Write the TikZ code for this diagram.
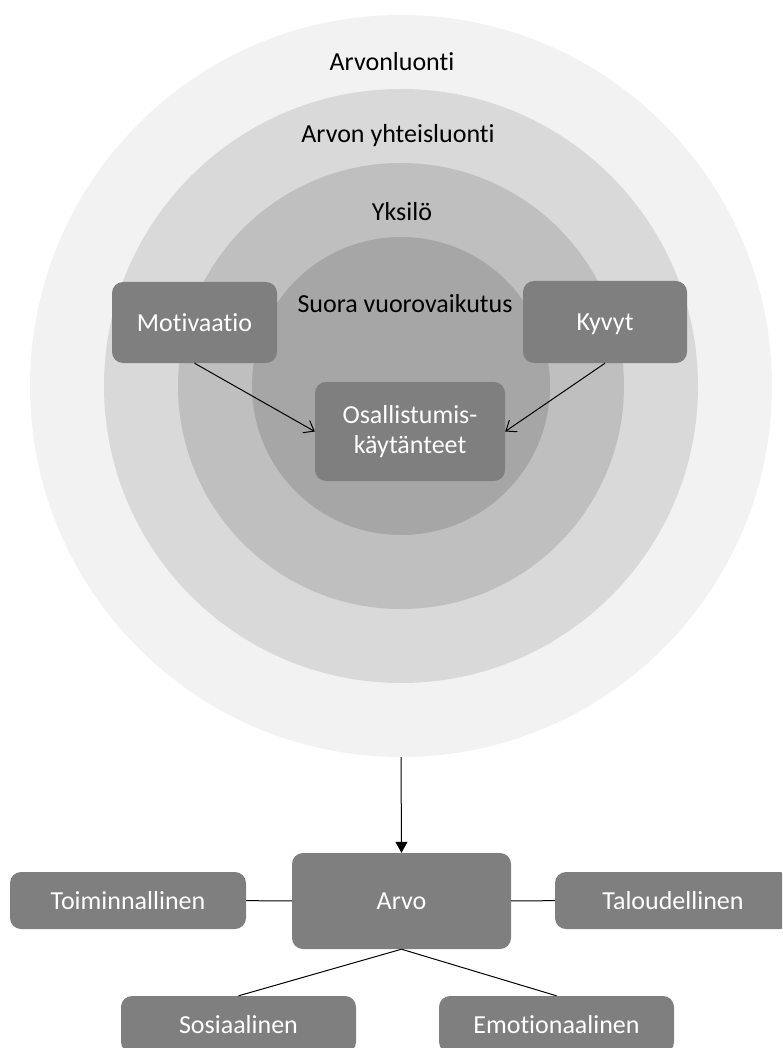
\documentclass[tikz,border=0pt]{standalone}
\usepackage{fontspec}
\setmainfont{Carlito}[Ligatures=NoCommon]
\usetikzlibrary{arrows.meta}

\definecolor{ringa}{HTML}{F2F2F2}
\definecolor{ringb}{HTML}{D9D9D9}
\definecolor{ringc}{HTML}{BFBFBF}
\definecolor{ringd}{HTML}{A6A6A6}
\definecolor{boxgray}{HTML}{7F7F7F}

\tikzset{
  lbl/.style={font=\fontsize{26}{30}\selectfont, text=black, inner sep=0pt, anchor=base},
  box/.style={fill=boxgray, rounded corners=11pt, text=white, align=center, inner sep=0pt,
    font=\fontsize{26}{30}\selectfont},
  onebox/.style={box, text height=17pt, text depth=0pt},
  link/.style={line width=1pt, black},
}

\begin{document}
\begin{tikzpicture}[x=1pt, y=-1pt]
\useasboundingbox (0,0) rectangle (782,1048);
\clip (0,0) rectangle (782,1048);
\coordinate (o) at (401,386);
\node[circle, fill=ringa, minimum size=742pt, inner sep=0pt] (outer) at (o) {};
\node[circle, fill=ringb, minimum size=594pt, inner sep=0pt] (cocreate) at (o) {};
\node[circle, fill=ringc, minimum size=446pt, inner sep=0pt] (indiv) at (o) {};
\node[circle, fill=ringd, minimum size=298pt, inner sep=0pt] (direct) at (o) {};
\node[lbl] at (392,71) {Arvonluonti};
\node[lbl] at (398,143) {Arvon yhteisluonti};
\node[lbl] at (402,221) {Yksilö};
\node[lbl] at (405,312) {Suora vuorovaikutus};
\node[onebox, minimum width=165pt, minimum height=81pt] (motiv) at (194.5,322.5) {Motivaatio};
\node[onebox, minimum width=164pt, minimum height=82pt] (kyvyt) at (605,322) {Kyvyt};
\node[box, minimum width=190pt, minimum height=99pt] (osall) at (410,431.5) {Osallistumis-\\käytänteet};
\draw[link, -{Straight Barb[length=9pt, width=14pt]}] (motiv.south) -- (osall.west);
\draw[link, -{Straight Barb[length=9pt, width=14pt]}] (kyvyt.south) -- (osall.east);
\node[onebox, minimum width=219pt, minimum height=96pt] (arvo) at (401.5,901) {Arvo};
\node[onebox, minimum width=236pt, minimum height=57pt] (toim) at (128,900.5) {Toiminnallinen};
\node[onebox, minimum width=236pt, minimum height=57pt] (talo) at (673,900.5) {Taloudellinen};
\node[onebox, minimum width=235pt, minimum height=57pt] (sos) at (238.5,1024.5) {Sosiaalinen};
\node[onebox, minimum width=235pt, minimum height=57pt] (emo) at (556.5,1024.5) {Emotionaalinen};
\draw[link, -{Triangle[length=11pt, width=12pt]}] (outer.south) -- (arvo.north);
\draw[link] (toim) -- (arvo);
\draw[link] (arvo) -- (talo);
\draw[link] (arvo.south) -- (sos.north);
\draw[link] (arvo.south) -- (emo.north);
\end{tikzpicture}
\end{document}
